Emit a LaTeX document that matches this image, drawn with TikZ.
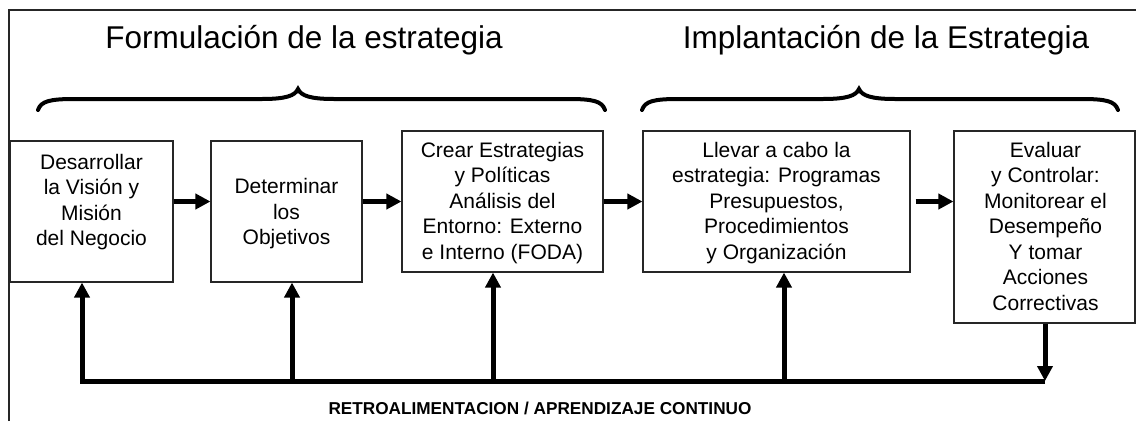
\documentclass[tikz,border=0pt]{standalone}
\usepackage{fontspec}
\setmainfont{Liberation Sans}
\usetikzlibrary{arrows.meta}
\begin{document}
\begin{tikzpicture}[x=1pt,y=-1pt,
  box/.style={draw=black!85, line width=1.1pt, inner sep=0pt},
  txt/.style={align=center, font=\fontsize{21pt}{25.5pt}\selectfont, inner sep=0pt},
  ttl/.style={font=\fontsize{31.5pt}{36pt}\selectfont, inner sep=0pt, anchor=base},
  lbl/.style={font=\bfseries\fontsize{17.2pt}{20pt}\selectfont, inner sep=0pt, anchor=base},
  arr/.style={line width=5pt, -{Triangle[length=15pt,width=15pt]}},
  brc/.style={line width=4pt, line cap=round}]
\useasboundingbox (0,0) rectangle (1136,421);
% frame (top and left edges)
\draw[line width=1.5pt, black!85] (9,421) -- (9,10) -- (1136,10);
% titles
\node[ttl] (H1) at (304,48) {Formulación de la estrategia};
\node[ttl] (H2) at (886,48) {Implantación de la Estrategia};
% braces
\draw[brc] (38,110) .. controls (41,101) and (50,99) .. (75,99) -- (262,99)
  .. controls (285,99) and (295,96) .. (298,89)
  .. controls (301,96) and (311,99) .. (334,99) -- (568,99)
  .. controls (593,99) and (602,101) .. (605,110);
\draw[brc] (642,110) .. controls (645,101) and (654,99) .. (679,99) -- (823,99)
  .. controls (846,99) and (856,96) .. (859,89)
  .. controls (862,96) and (872,99) .. (895,99) -- (1081,99)
  .. controls (1106,99) and (1115,101) .. (1118,110);
% boxes
\node[box, minimum width=163pt, minimum height=141pt] (B1) at (91.5,211.5) {};
\node[box, minimum width=151pt, minimum height=141pt] (B2) at (286.5,211.5) {};
\node[box, minimum width=201pt, minimum height=141pt] (B3) at (502.5,201.5) {};
\node[box, minimum width=267pt, minimum height=141pt] (B4) at (776.5,201.5) {};
\node[box, minimum width=181pt, minimum height=192pt] (B5) at (1044.5,227) {};
% texts
\node[txt] (T1) at (91.5,202) {Desarrollar\\la Visión y\\Misión\\del Negocio};
\node[txt] (T2) at (286.5,214) {Determinar\\los\\Objetivos};
\node[txt] (T3) at (502.5,203) {Crear Estrategias\\y Políticas\\Análisis del\\Entorno: Externo\\e Interno (FODA)};
\node[txt] (T4) at (776.5,203) {Llevar a cabo la\\estrategia: Programas\\Presupuestos,\\Procedimientos\\y Organización};
\node[txt] (T5) at (1045.5,226) {Evaluar\\y Controlar:\\Monitorear el\\Desempeño\\Y tomar\\Acciones\\Correctivas};
% forward arrows
\draw[arr] (B1.east |- B3.west) -- (B2.west |- B3.west);
\draw[arr] (B2.east |- B3.west) -- (B3.west);
\draw[arr] (B3.east) -- (B4.west);
\draw[arr, shorten <=5pt] (B4.east) -- (B5.west |- B4.east);
% feedback loop
\coordinate (F1) at (82,381);
\coordinate (F2) at (292,381);
\coordinate (F3) at (493,381);
\coordinate (F4) at (784,381);
\coordinate (F5) at (1045,381);
\draw[arr] (F5) -- (F1) -- (F1 |- B1.south);
\draw[arr] (F2) -- (F2 |- B2.south);
\draw[arr] (F3) -- (F3 |- B3.south);
\draw[arr] (F4) -- (F4 |- B4.south);
\draw[arr] (B5.south -| F5) -- (F5);
% label
\node[lbl] (L) at (540,414) {RETROALIMENTACION / APRENDIZAJE CONTINUO};
\end{tikzpicture}
\end{document}
